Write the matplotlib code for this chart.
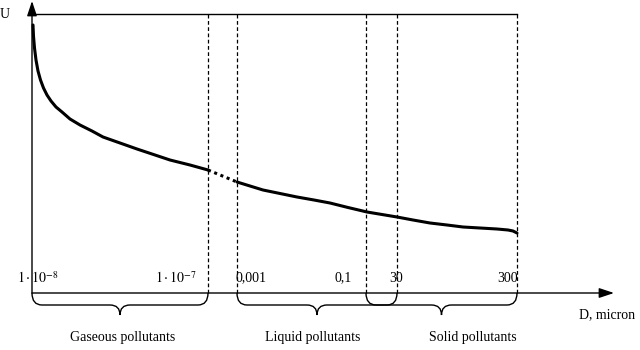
import matplotlib
matplotlib.use("Agg")
import matplotlib.pyplot as plt
from matplotlib.path import Path
from matplotlib.patches import PathPatch

plt.rcParams['font.family'] = ['Liberation Serif', 'DejaVu Serif']
plt.rcParams['mathtext.fontset'] = 'stix'

# --- data (axis units: D position along axis, U value) ---
gas_x = [1, 1.5, 2.5, 4, 6, 8.5, 11.5, 15, 19, 24, 30, 38, 48, 60, 71, 88, 105, 123, 138, 158, 176]
gas_u = [268, 257, 245, 233, 222, 213, 205, 198, 192, 186, 181, 174, 168, 162, 156, 150, 144, 138, 133, 128, 123]
gap_x = [176, 205]
gap_u = [123, 111]
liq_x = [205, 218, 231, 248, 265, 282, 298, 316, 335, 350, 365, 381, 398, 415, 431, 448, 465, 476, 481, 485]
liq_u = [111, 107, 103, 99.5, 96, 93, 90, 85.5, 81, 78.5, 76, 73, 70, 68, 66, 65, 64, 63, 62, 60]

tick_labels = [r"$1\cdot10^{-8}$", r"$1\cdot10^{-7}$", "0,001", "0,1", "30", "300"]
tick_pos = [6, 144, 219, 311, 364, 476]
boundaries = [176, 205, 334, 365, 485]
top_u = 279

groups = ["Gaseous pollutants", "Liquid pollutants", "Solid pollutants"]
group_span = [(0, 176), (205, 365), (334, 485)]
group_label_x = [91, 281, 441]

fig = plt.figure(figsize=(6.4, 3.5), dpi=100)
ax = fig.add_axes([0, 0, 1, 1])
ax.set_xlim(-32, 608)
ax.set_ylim(-57, 293)
ax.axis('off')

# axes with arrows
arrow = dict(arrowstyle="-|>,head_length=0.9,head_width=0.3", color='black', lw=1.0, shrinkA=0, shrinkB=0)
ax.annotate("", xy=(0, 292), xytext=(0, 0), arrowprops=arrow, annotation_clip=False)
ax.annotate("", xy=(582, 0), xytext=(0, 0), arrowprops=arrow, annotation_clip=False)
ax.plot([0, boundaries[-1]], [top_u, top_u], color='black', lw=1.0)

for b in boundaries:
    ax.plot([b, b], [0, top_u], color='black', lw=0.9, ls=(0, (3, 2)))

# curve
ax.plot(gas_x, gas_u, color='black', lw=2.2, solid_capstyle='round', solid_joinstyle='round')
ax.plot(gap_x, gap_u, color='black', lw=2.2, ls=(0, (1, 1.2)))
ax.plot(liq_x, liq_u, color='black', lw=2.2, solid_capstyle='round', solid_joinstyle='round')

# tick labels
for lab, p in zip(tick_labels, tick_pos):
    ax.text(p, 15, lab, ha='center', va='center', fontsize=10)

ax.text(-27, 278, "U", ha='center', va='center', fontsize=10)
ax.text(575, -22, "D, micron", ha='center', va='center', fontsize=10)


def brace(x0, x1, d1=12, d2=22, r=10):
    xm = (x0 + x1) / 2
    verts = [(x0, 0), (x0, -d1), (x0 + r, -d1),
             (xm - r, -d1), (xm, -d1), (xm, -d2),
             (xm, -d1), (xm + r, -d1),
             (x1 - r, -d1), (x1, -d1), (x1, 0)]
    codes = [Path.MOVETO, Path.CURVE3, Path.CURVE3,
             Path.LINETO, Path.CURVE3, Path.CURVE3,
             Path.CURVE3, Path.CURVE3,
             Path.LINETO, Path.CURVE3, Path.CURVE3]
    ax.add_patch(PathPatch(Path(verts, codes), fill=False, lw=1.0, color='black'))


for (a, b), g, gx in zip(group_span, groups, group_label_x):
    brace(a, b)
    ax.text(gx, -44, g, ha='center', va='center', fontsize=10)

fig.savefig("out.png", dpi=100)
